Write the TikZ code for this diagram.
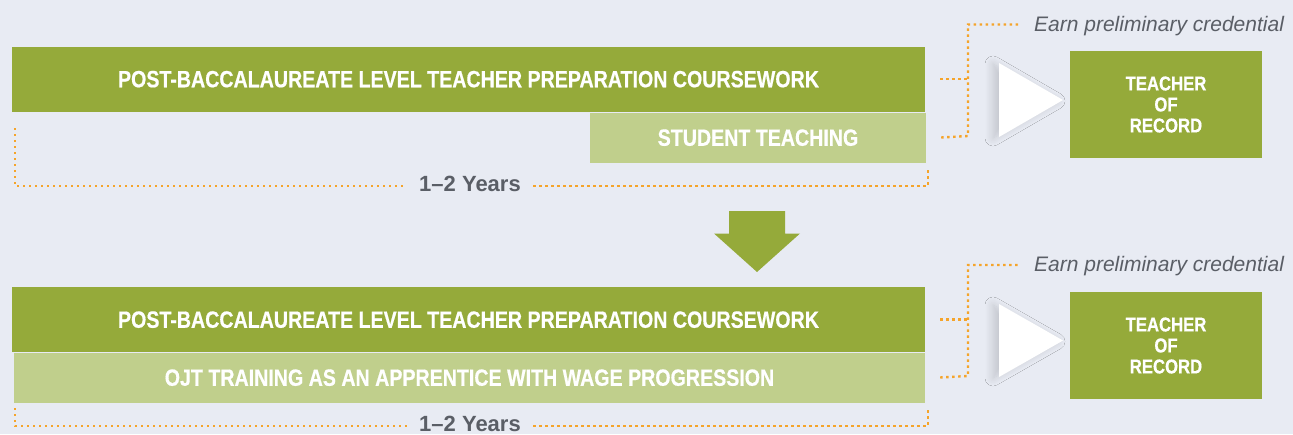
\documentclass[tikz,border=0pt]{standalone}
\usepackage{fontspec}
\setmainfont{Liberation Sans}
\newfontfamily\narrowfont[FakeStretch=0.835, BoldFeatures={FakeBold=0.6}]{Liberation Sans}
\usetikzlibrary{shadows.blur}
\definecolor{bgblue}{HTML}{E8EBF3}
\definecolor{oliveg}{HTML}{95AA3A}
\definecolor{paleg}{HTML}{C0CF8C}
\definecolor{dotorange}{HTML}{F5A42A}
\definecolor{slate}{HTML}{5A5E66}

\begin{document}
\begin{tikzpicture}[x=1pt, y=-1pt,
    bar/.style={fill=oliveg, text=white, minimum height=65pt, inner sep=0pt, text height=16.5pt, text depth=0pt, font=\narrowfont\bfseries\fontsize{23.5}{26}\selectfont},
    subbar/.style={bar, fill=paleg, minimum height=50pt},
    goal/.style={fill=oliveg, text=white, minimum width=192pt, minimum height=107pt, align=center, font=\narrowfont\bfseries\fontsize{20}{21}\selectfont},
    years/.style={text=slate, inner xsep=12.5pt, text height=13pt, text depth=3pt, font=\bfseries\fontsize{22}{24}\selectfont},
    earn/.style={text=slate, inner xsep=16pt, anchor=west, text height=15pt, text depth=2pt, font=\itshape\fontsize{21}{24}\selectfont},
    dots/.style={dotorange, line width=2.4pt, dash pattern=on 2.4pt off 3.6pt},
    play/.style={fill=white, blur shadow={shadow xshift=-6pt, shadow yshift=-1pt, shadow blur radius=8pt, shadow blur steps=12, shadow opacity=16}}]
    \path[use as bounding box, fill=bgblue] (0,0) rectangle (1293,434);

    \node[bar, minimum width=913pt] (c1) at (468.5,79) {POST-BACCALAUREATE LEVEL TEACHER PREPARATION COURSEWORK};
    \node[subbar, minimum width=336pt] (s1) at (758,137.5) {STUDENT TEACHING};
    \node[years] (y1) at (470,186) {1--2 Years};
    \node[earn] (e1) at (1018,24.5) {Earn preliminary credential};
    \node[goal] (t1) at (1166,104.5) {TEACHER\\OF\\RECORD};
    \coordinate (l1) at (15,128);
    \coordinate (r1) at (928,168);
    \coordinate (k1) at (968,136);
    \draw[dots] (l1) |- (y1.west);
    \draw[dots] (y1.east) -| (r1);
    \draw[dots] ([xshift=15pt]s1.east) -- (k1) |- (e1.west);
    \draw[dots] ([xshift=15pt]c1.east) -- (c1.east -| k1);
    \path[play] (999,63) -- (1063,100) -- (999,137) -- cycle;

    \fill[oliveg] (729,211) -- (785,211) -- (785,233.5) -- (800,233.5) -- (757,272) -- (714,233.5) -- (729,233.5) -- cycle;

    \node[bar, minimum width=913pt] (c2) at (468.5,319.5) {POST-BACCALAUREATE LEVEL TEACHER PREPARATION COURSEWORK};
    \node[subbar, minimum width=911pt] (s2) at (469.5,377.5) {OJT TRAINING AS AN APPRENTICE WITH WAGE PROGRESSION};
    \node[years] (y2) at (470,426) {1--2 Years};
    \node[earn] (e2) at (1018,265) {Earn preliminary credential};
    \node[goal] (t2) at (1166,345.5) {TEACHER\\OF\\RECORD};
    \coordinate (l2) at (15,408);
    \coordinate (r2) at (928,409);
    \coordinate (k2) at (968,376);
    \draw[dots] (l2) |- (y2.west);
    \draw[dots] (y2.east) -| (r2);
    \draw[dots] ([xshift=15pt]s2.east) -- (k2) |- (e2.west);
    \draw[dots] ([xshift=15pt]c2.east) -- (c2.east -| k2);
    \path[play] (999,304) -- (1063,340.5) -- (999,377) -- cycle;
\end{tikzpicture}
\end{document}
